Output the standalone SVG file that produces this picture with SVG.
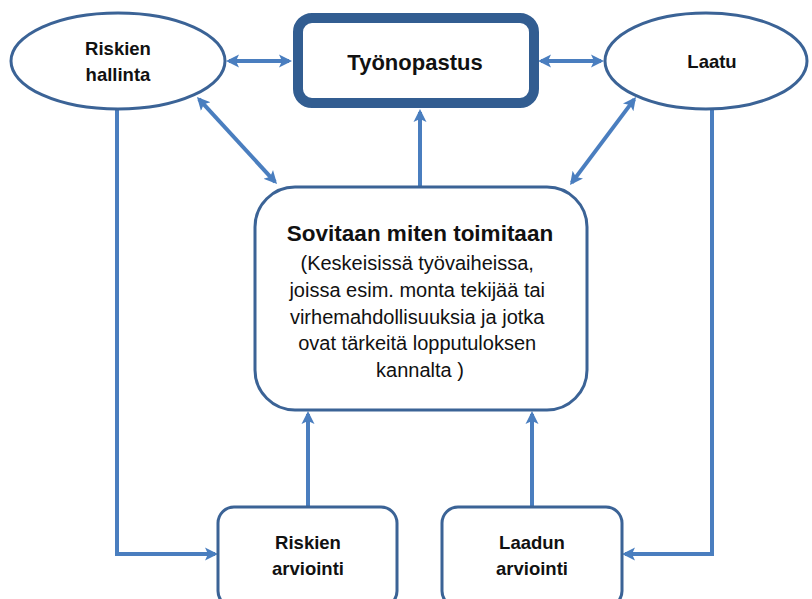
<svg xmlns="http://www.w3.org/2000/svg" width="812" height="599" viewBox="0 0 812 599">
<style>
.shape{fill:#fff;stroke:#3B6396;stroke-width:3}
.top{fill:#fff;stroke:#325D91;stroke-width:10}
.t{font-family:"Liberation Sans",Arial,sans-serif;fill:#111;text-anchor:middle}
.b{font-weight:bold}
.c{fill:none;stroke:#4A7EBF;stroke-width:4}
</style>
<defs>
<marker id="ah" markerUnits="userSpaceOnUse" markerWidth="16" markerHeight="16" viewBox="0 -8 16 16" refX="10" refY="0" orient="auto-start-reverse">
<path d="M0,-6.5 L13,0 L0,6.5 L3,0 z" fill="#4A7EBF"/>
</marker>
</defs>
<rect width="812" height="599" fill="#fff"/>
<g id="connectors">
<line class="c" x1="229" y1="61" x2="289" y2="61" marker-start="url(#ah)" marker-end="url(#ah)"/>
<line class="c" x1="541" y1="61" x2="601" y2="61" marker-start="url(#ah)" marker-end="url(#ah)"/>
<line class="c" x1="199" y1="99.2" x2="275" y2="181.8" marker-start="url(#ah)" marker-end="url(#ah)"/>
<line class="c" x1="634.2" y1="99.4" x2="571.8" y2="182.6" marker-start="url(#ah)" marker-end="url(#ah)"/>
<line class="c" x1="420" y1="187" x2="420" y2="112" marker-end="url(#ah)"/>
<line class="c" x1="308" y1="507" x2="308" y2="414" marker-end="url(#ah)"/>
<line class="c" x1="532" y1="507" x2="532" y2="414" marker-end="url(#ah)"/>
<path class="c" d="M117,109 V554 H215" marker-end="url(#ah)"/>
<path class="c" d="M712,109 V554 H625" marker-end="url(#ah)"/>
</g>
<g id="riskien-hallinta">
<ellipse class="shape" cx="118" cy="61" rx="107" ry="48"/>
<text class="t b" x="118" y="55" font-size="18.5">Riskien</text>
<text class="t b" x="118" y="81" font-size="18.5">hallinta</text>
</g>
<g id="tyonopastus">
<rect class="top" x="298" y="18" width="236" height="85" rx="14"/>
<text class="t b" x="415" y="70" font-size="22">Työnopastus</text>
</g>
<g id="laatu">
<ellipse class="shape" cx="706" cy="61" rx="101" ry="48"/>
<text class="t b" x="712" y="68" font-size="18.5">Laatu</text>
</g>
<g id="sovitaan">
<rect class="shape" x="255" y="187" width="332" height="223" rx="40"/>
<text class="t b" x="420" y="241" font-size="22.5">Sovitaan miten toimitaan</text>
<text class="t" font-size="20">
<tspan x="420" y="270">(Keskeisissä työvaiheissa,</tspan>
<tspan x="420" y="297">joissa esim. monta tekijää tai</tspan>
<tspan x="420" y="324">virhemahdollisuuksia ja jotka</tspan>
<tspan x="420" y="350">ovat tärkeitä lopputuloksen</tspan>
<tspan x="420" y="377">kannalta )</tspan>
</text>
</g>
<g id="riskien-arviointi">
<rect class="shape" x="218" y="507" width="179" height="100" rx="16"/>
<text class="t b" x="308" y="549" font-size="18.5">Riskien</text>
<text class="t b" x="308" y="575" font-size="18.5">arviointi</text>
</g>
<g id="laadun-arviointi">
<rect class="shape" x="442" y="507" width="180" height="100" rx="16"/>
<text class="t b" x="532" y="549" font-size="18.5">Laadun</text>
<text class="t b" x="532" y="575" font-size="18.5">arviointi</text>
</g>
</svg>
